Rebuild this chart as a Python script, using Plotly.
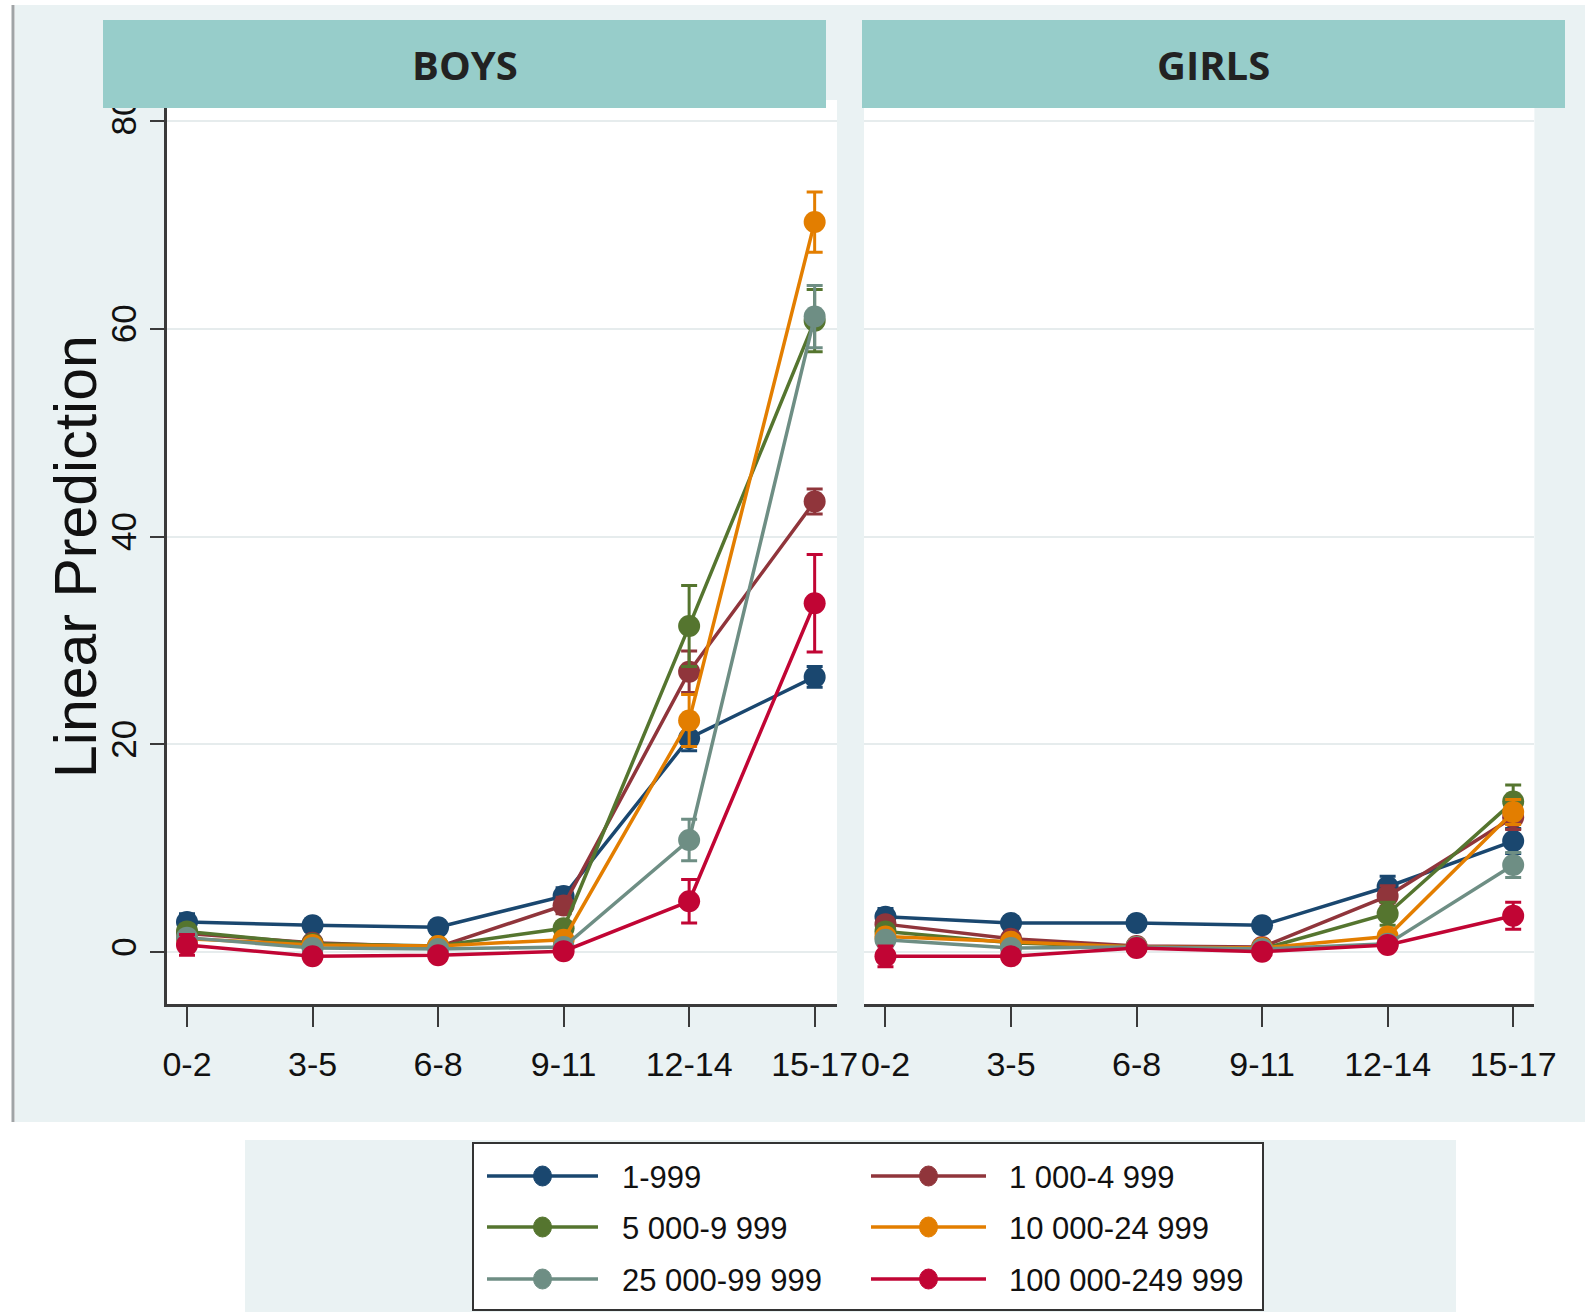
import plotly.graph_objects as go

age_groups = ["0-2", "3-5", "6-8", "9-11", "12-14", "15-17"]
series_names = ["1-999", "1 000-4 999", "5 000-9 999", "10 000-24 999", "25 000-99 999", "100 000-249 999"]
series_colors = ["#1a476f", "#90353b", "#55752f", "#e37e00", "#6e8e84", "#c10534"]

boys_1_999 = [2.9, 2.6, 2.4, 5.4, 20.6, 26.5]
boys_1000_4999 = [1.8, 0.9, 0.5, 4.5, 27.0, 43.4]
boys_5000_9999 = [2.0, 0.8, 0.6, 2.3, 31.4, 60.8]
boys_10000_24999 = [1.3, 0.7, 0.6, 1.2, 22.3, 70.3]
boys_25000_99999 = [1.4, 0.4, 0.3, 0.5, 10.8, 61.2]
boys_100000_249999 = [0.7, -0.4, -0.3, 0.1, 4.9, 33.6]

boys_ci_1_999 = [0.8, 0.6, 0.6, 0.8, 1.2, 1.0]
boys_ci_1000_4999 = [0.5, 0.4, 0.4, 0.8, 2.0, 1.2]
boys_ci_5000_9999 = [0.6, 0.4, 0.4, 0.6, 3.9, 3.0]
boys_ci_10000_24999 = [0.5, 0.3, 0.3, 0.5, 2.5, 2.9]
boys_ci_25000_99999 = [0.5, 0.3, 0.3, 0.4, 2.0, 3.0]
boys_ci_100000_249999 = [1.0, 0.5, 0.5, 0.5, 2.1, 4.7]

girls_1_999 = [3.4, 2.8, 2.8, 2.6, 6.3, 10.7]
girls_1000_4999 = [2.7, 1.3, 0.6, 0.5, 5.4, 13.0]
girls_5000_9999 = [2.0, 0.9, 0.5, 0.3, 3.7, 14.5]
girls_10000_24999 = [1.5, 1.0, 0.5, 0.4, 1.5, 13.5]
girls_25000_99999 = [1.2, 0.4, 0.5, 0.3, 0.8, 8.4]
girls_100000_249999 = [-0.4, -0.4, 0.4, 0.05, 0.7, 3.5]

girls_ci_1_999 = [0.8, 0.6, 0.6, 0.6, 1.0, 1.2]
girls_ci_1000_4999 = [0.6, 0.4, 0.3, 0.3, 1.0, 1.2]
girls_ci_5000_9999 = [0.5, 0.3, 0.3, 0.3, 1.1, 1.6]
girls_ci_10000_24999 = [0.5, 0.3, 0.3, 0.3, 0.5, 1.2]
girls_ci_25000_99999 = [0.5, 0.3, 0.3, 0.3, 0.5, 1.2]
girls_ci_100000_249999 = [1.0, 0.6, 0.4, 0.4, 0.5, 1.3]

panel_titles = ["BOYS", "GIRLS"]
y_ticks = [0, 20, 40, 60, 80]
y_title = "Linear Prediction"

boys = [boys_1_999, boys_1000_4999, boys_5000_9999, boys_10000_24999, boys_25000_99999, boys_100000_249999]
boys_ci = [boys_ci_1_999, boys_ci_1000_4999, boys_ci_5000_9999, boys_ci_10000_24999, boys_ci_25000_99999, boys_ci_100000_249999]
girls = [girls_1_999, girls_1000_4999, girls_5000_9999, girls_10000_24999, girls_25000_99999, girls_100000_249999]
girls_ci = [girls_ci_1_999, girls_ci_1000_4999, girls_ci_5000_9999, girls_ci_10000_24999, girls_ci_25000_99999, girls_ci_100000_249999]

W, H = 1585, 1312
def px(x): return min(max(x / W, 0), 1)
def py(y): return min(max(1 - y / H, 0), 1)

FONT = "Liberation Sans, Arial"
BG = "#eaf2f3"
xpos = list(range(len(age_groups)))

fig = go.Figure()
for panel, (vals, cis) in enumerate([(boys, boys_ci), (girls, girls_ci)]):
    xa = "x" if panel == 0 else "x2"
    ya = "y" if panel == 0 else "y2"
    for name, color, v, c in zip(series_names, series_colors, vals, cis):
        fig.add_trace(go.Scatter(
            x=xpos, y=v, name=name, xaxis=xa, yaxis=ya, mode="lines+markers",
            line=dict(color=color, width=3.5),
            marker=dict(color=color, size=22, symbol="circle"),
            error_y=dict(type="data", array=c, visible=True, color=color, thickness=3, width=8),
            showlegend=False, cliponaxis=False,
        ))

PLOT_TOP, PLOT_BOT = 100, 1004
L_PLOT = (166.8, 837)
R_PLOT = (864, 1534.4)
ydom = [py(PLOT_BOT), py(PLOT_TOP)]
yrange = [-4.99, 82.05]
axis_common = dict(gridcolor="#e6eced", gridwidth=2, zeroline=False)
xfont = dict(family=FONT, size=34, color="#111")
fig.update_layout(
    width=W, height=H, autosize=False,
    margin=dict(l=0, r=0, t=0, b=0, autoexpand=False),
    paper_bgcolor="white", plot_bgcolor="white",
    showlegend=False,
    xaxis=dict(domain=[px(L_PLOT[0]), px(L_PLOT[1])], range=[-0.161, 5.178],
               tickvals=xpos, ticktext=age_groups, showgrid=False, zeroline=False,
               showline=True, linecolor="#3a3a3a", linewidth=2.5,
               ticks="outside", ticklen=20, tickwidth=2, tickcolor="#3a3a3a",
               ticklabelstandoff=8, tickfont=xfont, anchor="y"),
    xaxis2=dict(domain=[px(R_PLOT[0]), px(R_PLOT[1])], range=[-0.171, 5.169],
                tickvals=xpos, ticktext=age_groups, showgrid=False, zeroline=False,
                showline=True, linecolor="#3a3a3a", linewidth=2.5,
                ticks="outside", ticklen=20, tickwidth=2, tickcolor="#3a3a3a",
                ticklabelstandoff=8, tickfont=xfont, anchor="y2"),
    yaxis=dict(domain=ydom, range=yrange, tickvals=y_ticks, tickangle=-90,
               showline=True, linecolor="#3a3a3a", linewidth=2.5,
               ticks="outside", ticklen=14, tickwidth=2, tickcolor="#3a3a3a",
               tickfont=dict(family=FONT, size=35, color="#111"),
               anchor="x", **axis_common),
    yaxis2=dict(domain=ydom, range=yrange, tickvals=y_ticks, showticklabels=False,
                showline=False, ticks="", anchor="x2", **axis_common),
)

shapes = []
# gray graph region background
shapes.append(dict(type="rect", xref="paper", yref="paper", x0=px(15), x1=1, y0=py(1122), y1=py(5),
                   fillcolor=BG, line=dict(width=0), layer="below"))
shapes.append(dict(type="line", xref="paper", yref="paper", x0=px(13), x1=px(13), y0=py(1122), y1=py(5),
                   line=dict(color="#a0a4a6", width=3), layer="below"))
# white plot areas
for (x0, x1) in [L_PLOT, R_PLOT]:
    shapes.append(dict(type="rect", xref="paper", yref="paper", x0=px(x0), x1=px(x1),
                       y0=py(PLOT_BOT), y1=py(PLOT_TOP), fillcolor="white", line=dict(width=0),
                       layer="below"))
# legend background
shapes.append(dict(type="rect", xref="paper", yref="paper", x0=px(245), x1=px(1456), y0=0, y1=py(1140),
                   fillcolor=BG, line=dict(width=0), layer="below"))
shapes.append(dict(type="rect", xref="paper", yref="paper", x0=px(473), x1=px(1263), y0=py(1310), y1=py(1143),
                   fillcolor="white", line=dict(color="#333", width=2), layer="below"))
# panel headers
header_boxes = [(103, 826), (862, 1565)]
annotations = []
for title, (x0, x1) in zip(panel_titles, header_boxes):
    shapes.append(dict(type="rect", xref="paper", yref="paper", x0=px(x0), x1=px(x1), y0=py(108), y1=py(20),
                       fillcolor="#97cdca", line=dict(width=0), layer="above"))
    annotations.append(dict(text="<b>%s</b>" % title, xref="paper", yref="paper",
                            x=px((x0 + x1) / 2), y=py(64), showarrow=False,
                            font=dict(family="Open Sans, Noto Sans", size=40, color="#222"),
                            xanchor="center", yanchor="middle"))

# y title
annotations.append(dict(text=y_title, xref="paper", yref="paper", x=px(76), y=py(557),
                        textangle=-90, showarrow=False, xanchor="center", yanchor="middle",
                        font=dict(family=FONT, size=59, color="#111")))

# legend
col_line = [(487, 598), (871, 986)]
col_text = [620, 1007]
row_y = [1176, 1227, 1279]
for i, (name, color) in enumerate(zip(series_names, series_colors)):
    r, c = divmod(i, 2)
    yy = row_y[r]
    lx0, lx1 = col_line[c]
    shapes.append(dict(type="line", xref="paper", yref="paper", x0=px(lx0), x1=px(lx1), y0=py(yy), y1=py(yy),
                       line=dict(color=color, width=3.5), layer="above"))
    mx = (lx0 + lx1) / 2
    shapes.append(dict(type="circle", xref="paper", yref="paper", x0=px(mx - 9), x1=px(mx + 9),
                       y0=py(yy + 10), y1=py(yy - 10), fillcolor=color, line=dict(color=color, width=1),
                       layer="above"))
    annotations.append(dict(text=name, xref="paper", yref="paper", x=px(col_text[c]), y=py(yy + 1),
                            xanchor="left", yanchor="middle", showarrow=False,
                            font=dict(family=FONT, size=31, color="#111")))

fig.update_layout(shapes=shapes, annotations=annotations)
fig.write_html(
    "out.html",
    config={"displayModeBar": False},
    post_script="document.body.style.margin='0';document.body.style.overflow='hidden';"
                "document.documentElement.style.overflow='hidden';",
)
